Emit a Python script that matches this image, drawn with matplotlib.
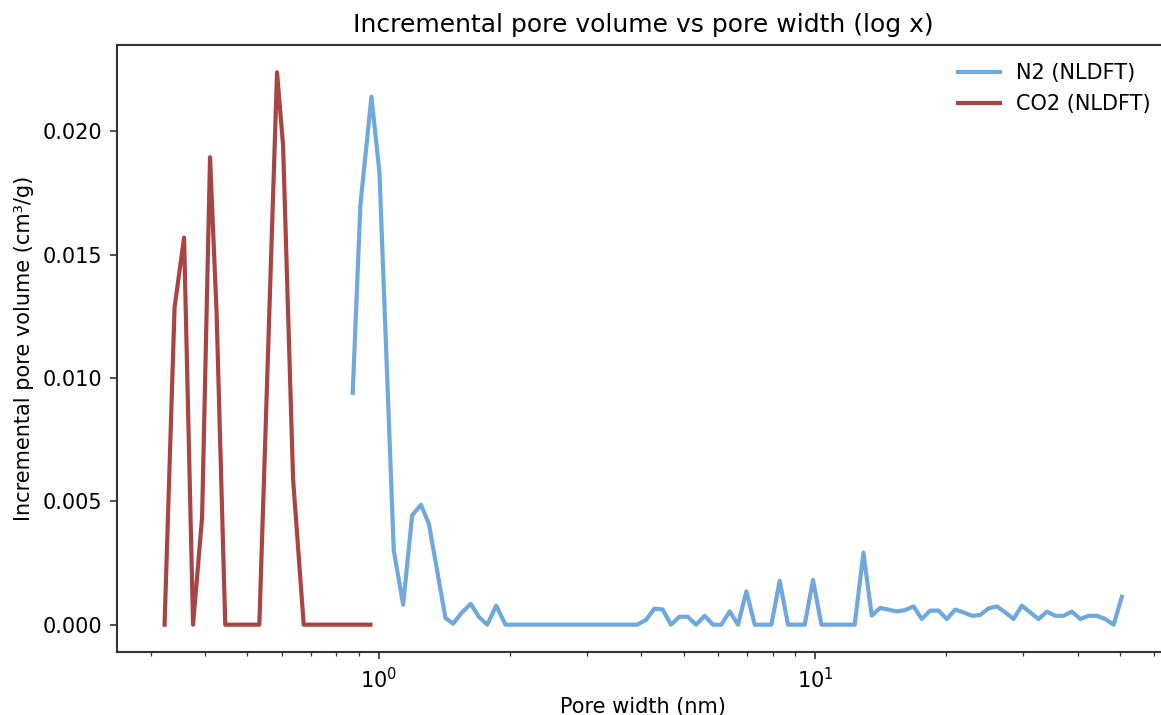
import matplotlib
matplotlib.use("Agg")
import matplotlib.pyplot as plt

# N2 (NLDFT) pore widths (nm) and incremental pore volume (cm3/g)
n2_width = [0.8716, 0.9079, 0.9622, 1.0037, 1.0825, 1.1375, 1.1927, 1.2497, 1.3033,
            1.4223, 1.4812, 1.5474, 1.6256, 1.6956, 1.7729, 1.8588, 1.9525,
            3.914, 4.098, 4.282, 4.474, 4.675, 4.887, 5.106, 5.340, 5.585, 5.836,
            6.100, 6.374, 6.660, 6.962, 7.274, 7.598, 7.943, 8.299, 8.672, 9.065,
            9.471, 9.895, 10.344, 12.33, 12.91, 13.49, 14.10, 14.74, 15.39, 16.09,
            16.82, 17.57, 18.36, 19.19, 20.05, 20.95, 21.90, 22.88, 23.90, 24.99,
            26.11, 27.29, 28.51, 29.79, 31.13, 32.54, 34.00, 35.52, 37.13, 38.80,
            40.54, 42.38, 44.28, 46.26, 48.36, 50.50]
n2_volume = [0.00940, 0.01704, 0.02140, 0.01834, 0.00301, 0.00081, 0.00443, 0.00486, 0.00408,
             0.00027, 0.00004, 0.00048, 0.00084, 0.00032, 0.0, 0.00077, 0.0,
             0.0, 0.00019, 0.00065, 0.00062, 0.0, 0.00032, 0.00032, 0.0, 0.00036, 0.0,
             0.0, 0.00054, 0.0, 0.00135, 0.0, 0.0, 0.0, 0.00178, 0.0, 0.0,
             0.0, 0.00181, 0.0, 0.0, 0.00292, 0.00037, 0.00068, 0.00061, 0.00054, 0.00059,
             0.00074, 0.00023, 0.00057, 0.00057, 0.00023, 0.00061, 0.00050, 0.00036, 0.00039, 0.00066,
             0.00074, 0.00050, 0.00023, 0.00077, 0.00050, 0.00023, 0.00053, 0.00036, 0.00036, 0.00053,
             0.00023, 0.00036, 0.00036, 0.00023, 0.0, 0.00113]

# CO2 (NLDFT)
co2_width = [0.3229, 0.3404, 0.3579, 0.3753, 0.3936, 0.4105, 0.4250, 0.4448,
             0.5324, 0.5846, 0.6035, 0.6363, 0.6730, 0.9570]
co2_volume = [0.0, 0.01286, 0.01569, 0.0, 0.00434, 0.01895, 0.01260, 0.0,
              0.0, 0.02239, 0.01944, 0.00589, 0.0, 0.0]

W, H = 1161, 715
fig = plt.figure(figsize=(W / 150, H / 150), dpi=150)
left, right, top, bottom = 116.7, 1169.7, 44.7, 652.3
ax = fig.add_axes([left / W, (H - bottom) / H, (right - left) / W, (bottom - top) / H])

ax.plot(n2_width, n2_volume, color="#6fa8dc", lw=2, label="N2 (NLDFT)")
ax.plot(co2_width, co2_volume, color="#a94442", lw=2, label="CO2 (NLDFT)")
ax.set_xscale("log")

for s in ax.spines.values():
    s.set_color("#333333")
    s.set_linewidth(1.0)
ax.tick_params(which="both", colors="#333333", labelcolor="black")

ax.set_title("Incremental pore volume vs pore width (log x)", fontsize=12)
ax.set_xlabel("Pore width (nm)", fontsize=10, labelpad=2.5)
ax.set_ylabel("Incremental pore volume (cm³/g)", fontsize=10)
ax.legend(loc="upper right", frameon=False, fontsize=10)

fig.savefig("out.png", dpi=150)
